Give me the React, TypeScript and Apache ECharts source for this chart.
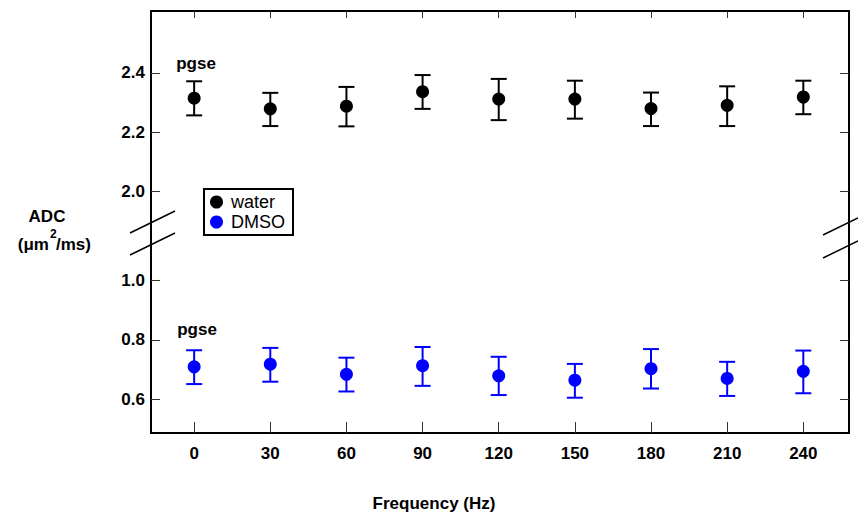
import React, { useEffect, useRef } from 'react';
import * as echarts from 'echarts';

const frequencies = [0, 30, 60, 90, 120, 150, 180, 210, 240];
const waterADC = [2.315, 2.279, 2.288, 2.337, 2.312, 2.312, 2.28, 2.291, 2.319];
const waterLow = [2.257, 2.221, 2.22, 2.279, 2.241, 2.246, 2.221, 2.221, 2.261];
const waterHigh = [2.372, 2.333, 2.353, 2.393, 2.38, 2.374, 2.334, 2.355, 2.374];
const dmsoADC = [0.709, 0.718, 0.684, 0.713, 0.679, 0.664, 0.703, 0.67, 0.694];
const dmsoLow = [0.651, 0.659, 0.626, 0.645, 0.614, 0.605, 0.636, 0.611, 0.62];
const dmsoHigh = [0.765, 0.773, 0.74, 0.776, 0.743, 0.719, 0.769, 0.726, 0.764];
const yTickLabels = [0.6, 0.8, 1.0, 2.0, 2.2, 2.4];
const xTickLabels = frequencies;

// broken y axis: the upper segment (>= 1.5) is drawn shifted down by BREAK_SHIFT
const BREAK_SHIFT = 0.7;
const toAxis = (v: number) => (v >= 1.5 ? +(v - BREAK_SHIFT).toFixed(4) : v);
const fromAxis = (u: number) => (u > 1.15 ? u + BREAK_SHIFT : u);

const FONT = 'Arial, "Liberation Sans", sans-serif';

export default function App() {
  const ref = useRef<HTMLDivElement>(null);
  useEffect(() => {
    if (!ref.current) return;
    const chart = echarts.init(ref.current, null, { renderer: 'svg' });

    const errRender = (color: string) => (params: any, api: any) => {
      const x = api.value(0);
      const lo = api.coord([x, api.value(1)]);
      const hi = api.coord([x, api.value(2)]);
      const hw = 8;
      const style = { stroke: color, lineWidth: 2 };
      return {
        type: 'group',
        children: [
          { type: 'line', shape: { x1: lo[0], y1: lo[1], x2: hi[0], y2: hi[1] }, style },
          { type: 'line', shape: { x1: lo[0] - hw, y1: lo[1], x2: lo[0] + hw, y2: lo[1] }, style },
          { type: 'line', shape: { x1: hi[0] - hw, y1: hi[1], x2: hi[0] + hw, y2: hi[1] }, style },
        ],
      };
    };

    const xMin = -17;
    const xMax = 258;
    const yMin = 0.486;
    const yMax = 1.909;
    const tickY = yTickLabels.map(toAxis);
    const axisLine = { show: true, onZero: false, lineStyle: { color: '#000', width: 2 } };
    const tickStyle = { color: '#333', width: 1 };

    const option: any = {
      animation: false,
      backgroundColor: '#fff',
      grid: { left: 151, top: 11, right: 9, bottom: 82, containLabel: false },
      legend: {
        orient: 'vertical',
        left: 204,
        top: 189,
        itemWidth: 13,
        itemHeight: 13,
        itemGap: 0,
        padding: [3, 8, 3, 6],
        borderColor: '#000',
        borderWidth: 2,
        backgroundColor: '#fff',
        selectedMode: false,
        textStyle: { fontSize: 18, fontFamily: FONT, color: '#000', lineHeight: 20, padding: [0, 0, 0, 3] },
        data: [
          { name: 'water', icon: 'circle' },
          { name: 'DMSO', icon: 'circle' },
        ],
      },
      xAxis: [
        {
          type: 'value',
          position: 'bottom',
          min: xMin,
          max: xMax,
          splitLine: { show: false },
          axisLine,
          axisTick: { show: true, inside: true, length: 11, lineStyle: tickStyle, customValues: xTickLabels },
          axisLabel: {
            show: true,
            customValues: xTickLabels,
            margin: 12,
            fontSize: 17,
            fontWeight: 'bold',
            fontFamily: FONT,
            color: '#000',
          },
        },
        {
          type: 'value',
          position: 'top',
          min: xMin,
          max: xMax,
          splitLine: { show: false },
          axisLine,
          axisTick: { show: true, inside: true, length: 7, lineStyle: tickStyle, customValues: xTickLabels },
          axisLabel: { show: false },
        },
      ],
      yAxis: [
        {
          type: 'value',
          position: 'left',
          min: yMin,
          max: yMax,
          splitLine: { show: false },
          axisLine,
          axisTick: { show: true, inside: true, length: 9, lineStyle: tickStyle, customValues: tickY },
          axisLabel: {
            show: true,
            customValues: tickY,
            margin: 6,
            fontSize: 17,
            fontWeight: 'bold',
            fontFamily: FONT,
            color: '#000',
            formatter: (u: number) => fromAxis(u).toFixed(1),
          },
        },
        {
          type: 'value',
          position: 'right',
          min: yMin,
          max: yMax,
          splitLine: { show: false },
          axisLine,
          axisTick: { show: true, inside: true, length: 9, lineStyle: tickStyle, customValues: tickY },
          axisLabel: { show: false },
        },
      ],
      series: [
        {
          name: 'water error',
          type: 'custom',
          renderItem: errRender('#000'),
          encode: { x: 0, y: [1, 2] },
          data: frequencies.map((f, i) => [f, toAxis(waterLow[i]), toAxis(waterHigh[i])]),
          z: 2,
        },
        {
          name: 'DMSO error',
          type: 'custom',
          renderItem: errRender('#0000ff'),
          encode: { x: 0, y: [1, 2] },
          data: frequencies.map((f, i) => [f, toAxis(dmsoLow[i]), toAxis(dmsoHigh[i])]),
          z: 2,
        },
        {
          name: 'water',
          type: 'scatter',
          symbol: 'circle',
          symbolSize: 13,
          itemStyle: { color: '#000', opacity: 1 },
          data: frequencies.map((f, i) => [f, toAxis(waterADC[i])]),
          z: 3,
        },
        {
          name: 'DMSO',
          type: 'scatter',
          symbol: 'circle',
          symbolSize: 13,
          itemStyle: { color: '#0000ff', opacity: 1 },
          data: frequencies.map((f, i) => [f, toAxis(dmsoADC[i])]),
          z: 3,
        },
      ],
      graphic: [
        { type: 'line', z: 100, shape: { x1: 130, y1: 233, x2: 175, y2: 211 }, style: { stroke: '#000', lineWidth: 1.5 } },
        { type: 'line', z: 100, shape: { x1: 130, y1: 255, x2: 175, y2: 233 }, style: { stroke: '#000', lineWidth: 1.5 } },
        { type: 'line', z: 100, shape: { x1: 823, y1: 235, x2: 858, y2: 218 }, style: { stroke: '#000', lineWidth: 1.5 } },
        { type: 'line', z: 100, shape: { x1: 823, y1: 258, x2: 858, y2: 241 }, style: { stroke: '#000', lineWidth: 1.5 } },
        {
          type: 'text', x: 196, y: 63, z: 100,
          style: { text: 'pgse', font: `bold 17px ${FONT}`, fill: '#000', align: 'center', verticalAlign: 'middle' },
        },
        {
          type: 'text', x: 197, y: 329, z: 100,
          style: { text: 'pgse', font: `bold 17px ${FONT}`, fill: '#000', align: 'center', verticalAlign: 'middle' },
        },
        {
          type: 'text', x: 47, y: 216, z: 100,
          style: { text: 'ADC', font: `bold 17px ${FONT}`, fill: '#000', align: 'center', verticalAlign: 'middle' },
        },
        {
          type: 'text', x: 49, y: 244, z: 100,
          style: { text: '(\u03bcm', font: `bold 17px ${FONT}`, fill: '#000', align: 'right', verticalAlign: 'middle' },
        },
        {
          type: 'text', x: 50, y: 234, z: 100,
          style: { text: '2', font: `bold 12px ${FONT}`, fill: '#000', align: 'left', verticalAlign: 'middle' },
        },
        {
          type: 'text', x: 56, y: 244, z: 100,
          style: { text: '/ms)', font: `bold 17px ${FONT}`, fill: '#000', align: 'left', verticalAlign: 'middle' },
        },
        {
          type: 'text', x: 434, y: 503, z: 100,
          style: { text: 'Frequency (Hz)', font: `bold 17px ${FONT}`, fill: '#000', align: 'center', verticalAlign: 'middle' },
        },
      ],
    };

    chart.setOption(option);
    return () => chart.dispose();
  }, []);

  return (
    <div
      ref={ref}
      style={{ position: 'fixed', left: 0, top: 0, width: 858, height: 515, background: '#fff' }}
    />
  );
}
